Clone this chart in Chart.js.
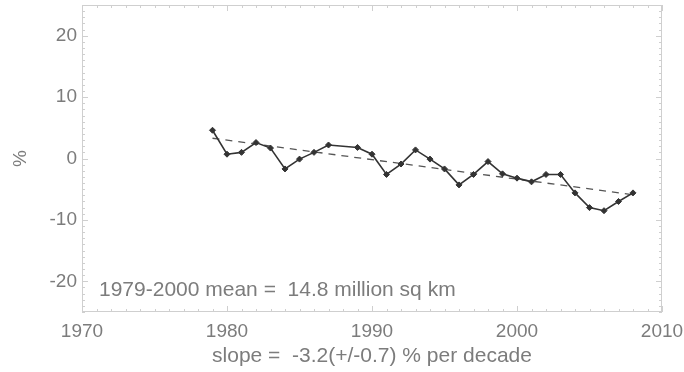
<!DOCTYPE html>
<html>
<head>
<meta charset="utf-8">
<script src="https://cdn.jsdelivr.net/npm/chart.js@4/dist/chart.umd.min.js"></script>
<style>
html,body{margin:0;padding:0;background:#fff;}
#wrap{width:684px;height:372px;}
</style>
</head>
<body>
<div id="wrap"><canvas id="c" width="684" height="372"></canvas></div>
<script>
// ---- data ----
const years = [1979,1980,1981,1982,1983,1984,1985,1986,1987,1988,1989,1990,1991,1992,1993,1994,1995,1996,1997,1998,1999,2000,2001,2002,2003,2004,2005,2006,2007,2008];
const anomaly = [4.6,0.7,1.0,2.6,1.7,-1.7,-0.1,1.0,2.2,null,1.8,0.7,-2.6,-0.9,1.4,-0.1,-1.7,-4.3,-2.6,-0.5,-2.5,-3.2,-3.8,-2.6,-2.6,-5.6,-8.0,-8.5,-7.0,-5.6];
const trendYears = [1979, 2008];
const trendValues = [3.3, -5.9];
const xTickLabels = [1970, 1980, 1990, 2000, 2010];
const yTickLabels = [-20, -10, 0, 10, 20];
const meanNote = '1979-2000 mean =  14.8 million sq km';
const slopeNote = 'slope =  -3.2(+/-0.7) % per decade';
const yTitle = '%';

const TEXT = '#7c7c7c';
const FRAME = '#cfcfcf';
const FONT = "'Liberation Sans', Arial, Helvetica, sans-serif";

const framePlugin = {
  id: 'frame',
  beforeDatasetsDraw(chart) {
    const {ctx, chartArea: a, scales: {x, y}} = chart;
    ctx.save();
    ctx.strokeStyle = FRAME;
    ctx.lineWidth = 1;
    ctx.strokeRect(a.left + 0.5, a.top + 0.5, a.right - a.left - 1, a.bottom - a.top - 1);
    ctx.beginPath();
    for (let v = x.min; v <= x.max; v++) {
      const px = Math.round(x.getPixelForValue(v)) + 0.5;
      const len = v % 10 === 0 ? 6 : 3;
      ctx.moveTo(px, a.bottom); ctx.lineTo(px, a.bottom - len);
      ctx.moveTo(px, a.top); ctx.lineTo(px, a.top + len);
    }
    for (let v = y.min; v <= y.max; v++) {
      const py = Math.round(y.getPixelForValue(v)) + 0.5;
      const len = v % 10 === 0 ? 6 : 3;
      ctx.moveTo(a.left, py); ctx.lineTo(a.left + len, py);
      ctx.moveTo(a.right, py); ctx.lineTo(a.right - len, py);
    }
    ctx.stroke();
    // note inside plot
    ctx.fillStyle = TEXT;
    ctx.font = '21px ' + FONT;
    ctx.textAlign = 'left';
    ctx.textBaseline = 'middle';
    ctx.fillText(meanNote, a.left + 17, y.getPixelForValue(-21.5));
    ctx.restore();
  }
};

function noPad(s) { s.paddingTop = 0; s.paddingBottom = 0; s.paddingLeft = 0; s.paddingRight = 0; }

new Chart(document.getElementById('c'), {
  type: 'line',
  data: {
    datasets: [
      {
        data: years.map((yr, i) => ({x: yr, y: anomaly[i]})),
        borderColor: '#333',
        backgroundColor: '#333',
        borderWidth: 1.6,
        pointStyle: 'rectRot',
        pointRadius: 3,
        pointBorderWidth: 1,
        spanGaps: true,
        tension: 0
      },
      {
        data: trendYears.map((yr, i) => ({x: yr, y: trendValues[i]})),
        borderColor: '#555',
        borderWidth: 1.3,
        borderDash: [7, 6],
        pointRadius: 0,
        tension: 0
      }
    ]
  },
  plugins: [framePlugin],
  options: {
    responsive: false,
    animation: false,
    devicePixelRatio: 1,
    layout: {padding: {left: 0, right: 22, top: 5, bottom: 0}},
    plugins: {legend: {display: false}, tooltip: {enabled: false}},
    scales: {
      x: {
        type: 'linear',
        min: 1970, max: 2010,
        grid: {display: false, drawTicks: false},
        border: {display: false},
        afterBuildTicks(s) { s.ticks = xTickLabels.map(v => ({value: v})); },
        afterFit(s) { s.height = 60; noPad(s); },
        ticks: {color: TEXT, font: {family: FONT, size: 19}, padding: 8, maxRotation: 0, autoSkip: false, callback: v => String(v)},
        title: {display: true, text: slopeNote, color: TEXT, font: {family: FONT, size: 21}, padding: {top: 0, bottom: 3}}
      },
      y: {
        min: -25, max: 25,
        grid: {display: false, drawTicks: false},
        border: {display: false},
        afterBuildTicks(s) { s.ticks = yTickLabels.map(v => ({value: v})); },
        afterFit(s) { s.width = 82; noPad(s); },
        ticks: {color: TEXT, font: {family: FONT, size: 19}, padding: 5, callback: v => String(v)},
        title: {display: true, text: yTitle, color: TEXT, font: {family: FONT, size: 19}, padding: {top: 9, bottom: 9}}
      }
    }
  }
});
</script>
</body>
</html>
